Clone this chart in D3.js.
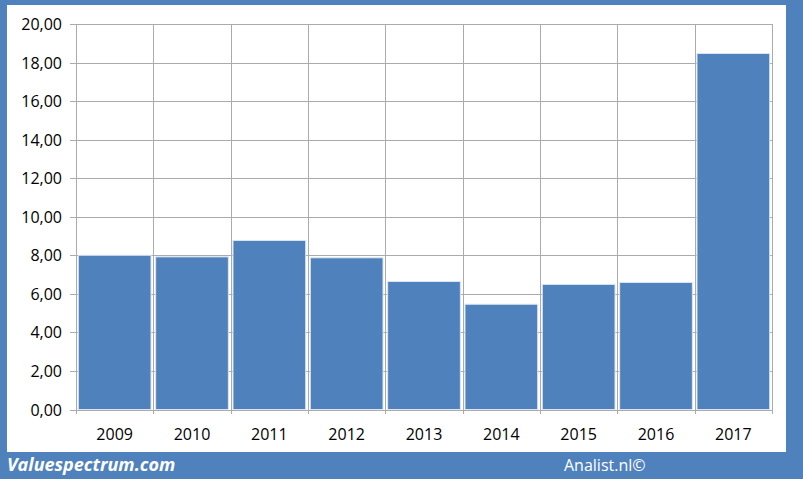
<!DOCTYPE html>
<html><head><meta charset="utf-8">
<script src="https://cdn.jsdelivr.net/npm/d3@7"></script>
<style>html,body{margin:0;padding:0;background:#4f81bd;}svg{display:block;}</style>
</head><body>
<script>
const categories = ["2009","2010","2011","2012","2013","2014","2015","2016","2017"];
const values = [8.0, 7.92, 8.77, 7.87, 6.64, 5.46, 6.49, 6.59, 18.47];
const yTicks = [0,2,4,6,8,10,12,14,16,18,20];

const W = 803, H = 479;
const svg = d3.select("body").append("svg").attr("width", W).attr("height", H);
svg.append("rect").attr("width", W).attr("height", H).attr("fill", "#4f81bd");
svg.append("rect").attr("x", 7).attr("y", 5).attr("width", 779).attr("height", 447).attr("fill", "#fff");

const x = d3.scaleBand().domain(categories).range([76, 772]).paddingInner(0.06).paddingOuter(0.03);
const xb = d3.scaleBand().domain(categories).range([76, 772]);
const y = d3.scaleLinear().domain([0, 20]).range([409.5, 24]);

const fmt = d => d.toFixed(2).replace(".", ",");
const grid = "#ababab";

svg.append("g").selectAll("line").data(yTicks).join("line")
  .attr("x1", 70).attr("x2", 772)
  .attr("y1", d => Math.round(y(d)) + 0.5).attr("y2", d => Math.round(y(d)) + 0.5)
  .attr("stroke", grid).attr("stroke-width", 1);
const bounds = categories.map(c => xb(c)).concat([772]);
svg.append("g").selectAll("line").data(bounds).join("line")
  .attr("x1", d => Math.round(d) + 0.5).attr("x2", d => Math.round(d) + 0.5)
  .attr("y1", 24).attr("y2", 414)
  .attr("stroke", grid).attr("stroke-width", 1);

svg.append("g").selectAll("rect").data(values).join("rect")
  .attr("x", (d, i) => x(categories[i]))
  .attr("width", x.bandwidth())
  .attr("y", d => y(d))
  .attr("height", d => y(0) - y(d))
  .attr("fill", "#4f81bd")
  .attr("stroke", "#dbe5f1").attr("stroke-width", 1);

svg.append("g").selectAll("text").data(yTicks).join("text")
  .attr("x", 62).attr("y", d => y(d) + 6)
  .attr("text-anchor", "end")
  .attr("font-family", "'Open Sans', 'Liberation Sans', sans-serif")
  .attr("font-size", 16).attr("fill", "#000")
  .text(fmt);

svg.append("g").selectAll("text").data(categories).join("text")
  .attr("x", d => xb(d) + xb.bandwidth() / 2).attr("y", 440)
  .attr("text-anchor", "middle")
  .attr("font-family", "'Open Sans', 'Liberation Sans', sans-serif")
  .attr("font-size", 16).attr("fill", "#000")
  .text(d => d);

svg.append("text").attr("x", 7).attr("y", 471)
  .attr("font-family", "'Open Sans', 'Liberation Sans', sans-serif")
  .attr("font-size", 18).attr("font-weight", "bold").attr("font-style", "italic")
  .attr("fill", "#fff").text("Valuespectrum.com");
svg.append("text").attr("x", 564).attr("y", 471)
  .attr("font-family", "'Open Sans', 'Liberation Sans', sans-serif")
  .attr("font-size", 16).attr("fill", "#fff").text("Analist.nl©");
</script>
</body></html>
